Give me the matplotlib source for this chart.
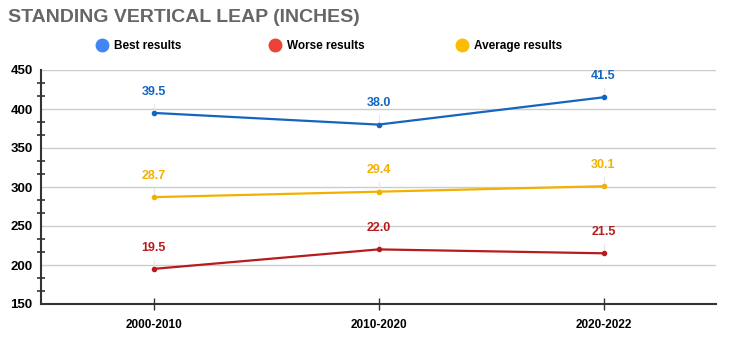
import matplotlib.pyplot as plt
import numpy as np
from matplotlib.ticker import MultipleLocator
from matplotlib.lines import Line2D

plt.rcParams['font.family'] = ['Liberation Sans', 'DejaVu Sans']

periods = ['2000-2010', '2010-2020', '2020-2022']
best = [395, 380, 415]
worse = [195, 220, 215]
average = [287, 294, 301]
best_lbl = ['39.5', '38.0', '41.5']
worse_lbl = ['19.5', '22.0', '21.5']
average_lbl = ['28.7', '29.4', '30.1']

line_cols = ['#1565c0', '#b71c1c', '#f2b100']
leg_cols = ['#4285f4', '#ea4335', '#fbbc04']
names = ['Best results', 'Worse results', 'Average results']

fig = plt.figure(figsize=(7.3, 3.39), dpi=100)
ax = fig.add_axes([41 / 730, 1 - 304 / 339, 675 / 730, 234 / 339])

x = np.arange(len(periods))
for vals, lbls, c in zip([best, worse, average], [best_lbl, worse_lbl, average_lbl], line_cols):
    ax.plot(x, vals, color=c, lw=1.6, marker='o', ms=3, zorder=3)
    for xi, v, l in zip(x, vals, lbls):
        ax.plot([xi, xi], [v, v + 12], color='#e8e8e8', lw=0.8, zorder=1)
        ax.annotate(l, (xi, v), xytext=(0, 11), textcoords='offset points',
                    ha='center', va='bottom', color=c, fontsize=9, fontweight='bold')

ax.set_xlim(-0.5, 2.5)
ax.set_ylim(150, 450)
ax.set_xticks(x)
ax.set_xticklabels(periods, fontsize=8.5, fontweight='bold')
ax.yaxis.set_major_locator(MultipleLocator(50))
ax.yaxis.set_minor_locator(MultipleLocator(50 / 3))
ax.tick_params(axis='y', which='major', length=0, labelsize=9.5, pad=6)
ax.tick_params(axis='y', which='minor', direction='inout', length=6, width=1.2, color='#333333')
ax.tick_params(axis='x', direction='inout', length=8, width=1, color='#333333', labelsize=8.5, pad=7)
for t in ax.get_yticklabels():
    t.set_fontweight('bold')
ax.grid(axis='y', color='#cccccc', lw=1)
ax.set_axisbelow(True)
for s in ['top', 'right']:
    ax.spines[s].set_visible(False)
ax.spines['left'].set_color('#333333')
ax.spines['bottom'].set_color('#333333')
ax.spines['left'].set_linewidth(1.5)
ax.spines['bottom'].set_linewidth(1.5)

fig.text(8 / 730, 1 - 18 / 339, 'STANDING VERTICAL LEAP (INCHES)', fontsize=14,
         fontweight='bold', color='#666666', va='center', ha='left')

handles = [Line2D([], [], ls='', marker='o', ms=9, color=c) for c in leg_cols]
leg_x = [84, 257, 444]
for h, n, lx in zip(handles, names, leg_x):
    fig.legend([h], [n], loc='center left', bbox_to_anchor=(lx / 730, 1 - 46 / 339),
               frameon=False, handletextpad=0.4, handlelength=1.2,
               prop={'weight': 'bold', 'size': 8.5})

fig.savefig('out.png', dpi=100)
